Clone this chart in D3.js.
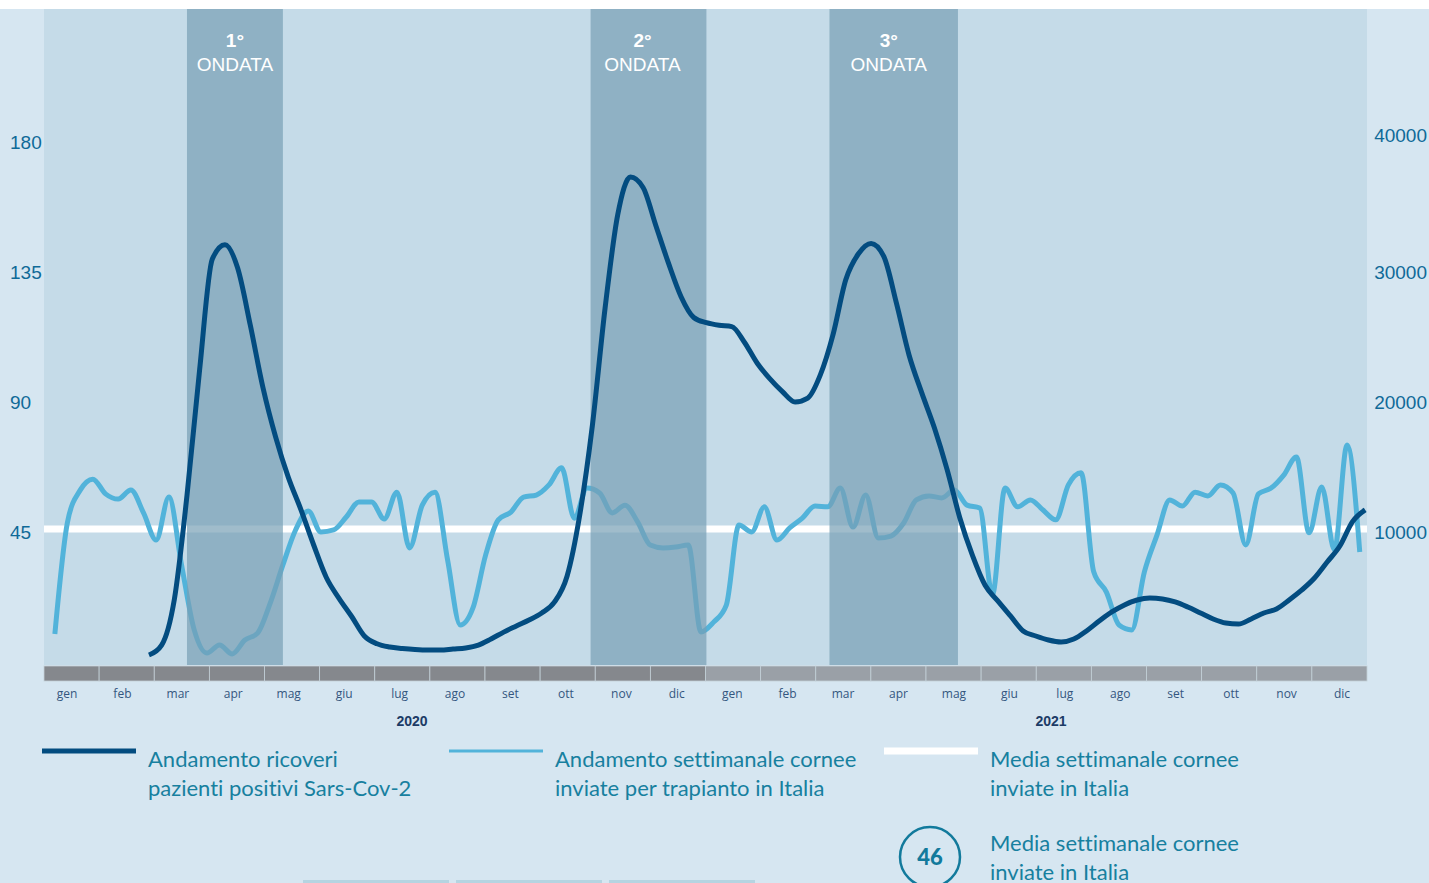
<!DOCTYPE html>
<html>
<head>
<meta charset="utf-8">
<script src="https://cdn.jsdelivr.net/npm/d3@7"></script>
<style>
  body { margin: 0; background: #d6e6f1; }
  svg { display: block; }
  text { font-variant-ligatures: none; }
</style>
</head>
<body>
<div id="chart"></div>
<script>
// month labels (italian)
var monthNames = ["gen", "feb", "mar", "apr", "mag", "giu", "lug", "ago", "set", "ott", "nov", "dic"];
var years = [2020, 2021];

// weekly corneas sent for transplant (left axis), first week starts 7 jan 2020
var corneeStart = "2020-01-07";
var corneeValues = [
  9.7, 48.5, 59.5, 63.3, 58.2, 56.4, 59.5, 51.6, 42.2, 57.1,
  33.6, 11.1, 3.1, 5.9, 2.8, 7.6, 10.0, 20.4, 33.6, 45.7,
  52.3, 45.0, 45.7, 50.2, 55.4, 55.4, 49.5, 58.8, 39.5, 54.3,
  58.8, 35.3, 12.8, 18.7, 37.0, 49.2, 51.9, 57.1, 57.8, 61.3,
  67.2, 49.8, 60.2, 58.5, 51.6, 54.3, 48.5, 40.5, 39.5, 39.8,
  40.5, 10.4, 13.8, 19.7, 47.4, 45.0, 53.7, 42.2, 46.4, 49.8,
  54.0, 53.7, 60.2, 46.7, 57.8, 42.9, 43.6, 48.1, 56.1, 57.5,
  56.8, 59.5, 54.3, 53.3, 23.2, 60.2, 53.7, 56.1, 52.6, 49.2,
  61.3, 65.5, 31.2, 24.2, 12.8, 11.1, 31.2, 44.0, 56.1, 54.0,
  58.8, 57.5, 61.3, 58.5, 40.5, 58.2, 60.2, 64.7, 71.0, 44.7,
  60.6, 38.8, 75.1, 38.1
];
var corneeMean = 46;

// weekly hospitalised sars-cov-2 patients (right axis), first week 28 feb 2020
var ricoveriStart = "2020-02-28";
var ricoveriValues = [
  540, 1300, 4800, 12800, 22500, 31000, 32100, 30300, 25900, 21100,
  17300, 14200, 11700, 9000, 6500, 4900, 3500, 2000, 1400, 1150,
  1040, 960, 920, 920, 1000, 1080, 1300, 1770, 2300, 2770,
  3230, 3770, 4600, 6600, 11300, 18200, 27200, 34400, 37300, 36500,
  33600, 30700, 28100, 26500, 26100, 25900, 25800, 24600, 23000, 21800,
  20800, 20000, 20300, 22100, 25200, 29400, 31400, 32200, 31200, 27600,
  23600, 20700, 18000, 14800, 11100, 8200, 5900, 4700, 3540, 2390,
  2000, 1690, 1540, 1770, 2390, 3150, 3850, 4390, 4770, 4920,
  4850, 4620, 4230, 3770, 3310, 3000, 2920, 3310, 3770, 4080,
  4770, 5540, 6460, 7690, 8920, 10800, 11700
];

// covid waves
var waveNames = ["1°", "2°", "3°"];
var waveStarts = ["2020-03-20", "2020-10-29", "2021-03-10"];
var waveEnds = ["2020-05-12", "2021-01-01", "2021-05-20"];

var leftTicks = [45, 90, 135, 180];
var rightTicks = [10000, 20000, 30000, 40000];

var svgWidth = 1429;
var svgHeight = 883;

var plot = { left: 44, right: 1367, top: 9, bottom: 665 };

var svg = d3.select("#chart")
  .append("svg")
  .attr("width", svgWidth)
  .attr("height", svgHeight);

var parse = d3.timeParse("%Y-%m-%d");

var xScale = d3.scaleTime()
  .domain([new Date(2020, 0, 1), new Date(2022, 0, 1)])
  .range([plot.left, plot.right]);

var yLeft = d3.scaleLinear().domain([0, 45]).range([662, 532]);
var yRight = d3.scaleLinear().domain([0, 10000]).range([662, 532]);

var corneeData = corneeValues.map(function(v, i) {
  return { date: d3.timeDay.offset(parse(corneeStart), i * 7), value: v };
});
var ricoveriData = ricoveriValues.map(function(v, i) {
  return { date: d3.timeDay.offset(parse(ricoveriStart), i * 7), value: v };
});

// background
svg.append("rect").attr("width", svgWidth).attr("height", svgHeight).attr("fill", "#d6e6f1");
svg.append("rect").attr("width", svgWidth).attr("height", plot.top).attr("fill", "#ffffff");
svg.append("rect")
  .attr("x", plot.left).attr("y", plot.top)
  .attr("width", plot.right - plot.left).attr("height", plot.bottom - plot.top)
  .attr("fill", "#c5dbe8");

// month bar: 24 equal cells
var months = d3.timeMonth.range(new Date(2020, 0, 1), new Date(2022, 0, 1));
var monthBand = d3.scaleBand()
  .domain(months.map((d, i) => i))
  .range([plot.left, plot.right]);
var monthLabelX = d3.scalePoint()
  .domain(months.map((d, i) => i))
  .range([67, 1342]);

var monthBar = svg.append("g");
monthBar.selectAll("rect")
  .data(months)
  .enter()
  .append("rect")
  .attr("x", (d, i) => monthBand(i))
  .attr("y", 666)
  .attr("width", monthBand.bandwidth())
  .attr("height", 15)
  .attr("fill", d => d.getFullYear() == 2020 ? "#85888d" : "#9aa0a7")
  .attr("stroke", "#c3d0d8")
  .attr("stroke-width", 0.8);

monthBar.selectAll("text")
  .data(months)
  .enter()
  .append("text")
  .attr("x", (d, i) => monthLabelX(i))
  .attr("y", 698)
  .attr("text-anchor", "middle")
  .attr("font-family", "'Open Sans', sans-serif")
  .attr("font-size", "12px")
  .attr("fill", "#34567f")
  .text(d => monthNames[d.getMonth()]);

var yearLabelX = [412, 1051];
svg.selectAll(".year")
  .data(years)
  .enter()
  .append("text")
  .attr("class", "year")
  .attr("x", (d, i) => yearLabelX[i])
  .attr("y", 726)
  .attr("text-anchor", "middle")
  .attr("font-family", "'Liberation Sans', Arial, sans-serif")
  .attr("font-weight", "bold")
  .attr("font-size", "14px")
  .attr("fill", "#1c3b66")
  .text(d => d);

// mean line
svg.append("line")
  .attr("x1", plot.left).attr("x2", plot.right)
  .attr("y1", yLeft(corneeMean)).attr("y2", yLeft(corneeMean))
  .attr("stroke", "#ffffff")
  .attr("stroke-width", 7);

// corneas line
var corneeLine = d3.line()
  .x(d => xScale(d.date))
  .y(d => yLeft(d.value))
  .curve(d3.curveMonotoneX);

svg.append("path")
  .datum(corneeData)
  .attr("d", corneeLine)
  .attr("fill", "none")
  .attr("stroke", "#52b3da")
  .attr("stroke-width", 5)
  .attr("stroke-linejoin", "round");

// wave bands (drawn over the corneas line)
var waveLabelShift = [0, -6, -5];
var waves = svg.append("g");
waveNames.forEach(function(name, i) {
  var x0 = xScale(parse(waveStarts[i]));
  var x1 = xScale(parse(waveEnds[i]));
  var cx = (x0 + x1) / 2 + waveLabelShift[i];
  waves.append("rect")
    .attr("x", x0).attr("y", plot.top)
    .attr("width", x1 - x0).attr("height", plot.bottom - plot.top)
    .attr("fill", "#789fb5")
    .attr("opacity", 0.7);
  waves.append("text")
    .attr("x", cx).attr("y", 47)
    .attr("text-anchor", "middle")
    .attr("font-family", "'Liberation Sans', Arial, sans-serif")
    .attr("font-weight", "bold")
    .attr("font-size", "19px")
    .attr("fill", "#ffffff")
    .text(name);
  waves.append("text")
    .attr("x", cx).attr("y", 71)
    .attr("text-anchor", "middle")
    .attr("font-family", "'Liberation Sans', Arial, sans-serif")
    .attr("font-size", "19px")
    .attr("fill", "#ffffff")
    .text("ONDATA");
});

// hospitalised line
var ricoveriLine = d3.line()
  .x(d => xScale(d.date))
  .y(d => yRight(d.value))
  .curve(d3.curveMonotoneX);

svg.append("path")
  .datum(ricoveriData)
  .attr("d", ricoveriLine)
  .attr("fill", "none")
  .attr("stroke", "#034c80")
  .attr("stroke-width", 5)
  .attr("stroke-linejoin", "round");

// axis labels
svg.selectAll(".ltick")
  .data(leftTicks)
  .enter()
  .append("text")
  .attr("class", "ltick")
  .attr("x", 10)
  .attr("y", d => yLeft(d) + 7)
  .attr("font-family", "'Liberation Sans', Arial, sans-serif")
  .attr("font-size", "19px")
  .attr("fill", "#0f6a98")
  .text(d => d);

svg.selectAll(".rtick")
  .data(rightTicks)
  .enter()
  .append("text")
  .attr("class", "rtick")
  .attr("x", 1427)
  .attr("y", d => yRight(d) + (d == 40000 ? 0 : 7))
  .attr("text-anchor", "end")
  .attr("font-family", "'Liberation Sans', Arial, sans-serif")
  .attr("font-size", "19px")
  .attr("fill", "#0f6a98")
  .text(d => d);

// legend
var legendFont = "Lato, sans-serif";
var legendColor = "#17809f";
var legendItems = [
  { x: 42, color: "#034c80", width: 5, lines: ["Andamento ricoveri", "pazienti positivi Sars-Cov-2"] },
  { x: 449, color: "#52b3da", width: 3, lines: ["Andamento settimanale cornee", "inviate per trapianto in Italia"] },
  { x: 884, color: "#ffffff", width: 7, lines: ["Media settimanale cornee", "inviate in Italia"] }
];

var legend = svg.append("g");
legendItems.forEach(function(item) {
  legend.append("line")
    .attr("x1", item.x).attr("x2", item.x + 94)
    .attr("y1", 751).attr("y2", 751)
    .attr("stroke", item.color)
    .attr("stroke-width", item.width);
  item.lines.forEach(function(t, j) {
    legend.append("text")
      .attr("x", item.x + 106)
      .attr("y", 767 + j * 29)
      .attr("font-family", legendFont)
      .attr("font-size", "22px")
      .attr("fill", legendColor)
      .text(t);
  });
});

legend.append("circle")
  .attr("cx", 930).attr("cy", 857).attr("r", 30)
  .attr("fill", "none")
  .attr("stroke", "#127a9c")
  .attr("stroke-width", 2.5);
legend.append("text")
  .attr("x", 930).attr("y", 865)
  .attr("text-anchor", "middle")
  .attr("font-family", legendFont)
  .attr("font-weight", "900")
  .attr("font-size", "22px")
  .attr("fill", "#127a9c")
  .text(corneeMean);
["Media settimanale cornee", "inviate in Italia"].forEach(function(t, j) {
  legend.append("text")
    .attr("x", 990)
    .attr("y", 851 + j * 29)
    .attr("font-family", legendFont)
    .attr("font-size", "22px")
    .attr("fill", legendColor)
    .text(t);
});

// small bars at the bottom edge
[303, 456, 609].forEach(function(x) {
  svg.append("rect")
    .attr("x", x).attr("y", 880)
    .attr("width", 146).attr("height", 3)
    .attr("fill", "#b5d4e1");
});
</script>
</body>
</html>
